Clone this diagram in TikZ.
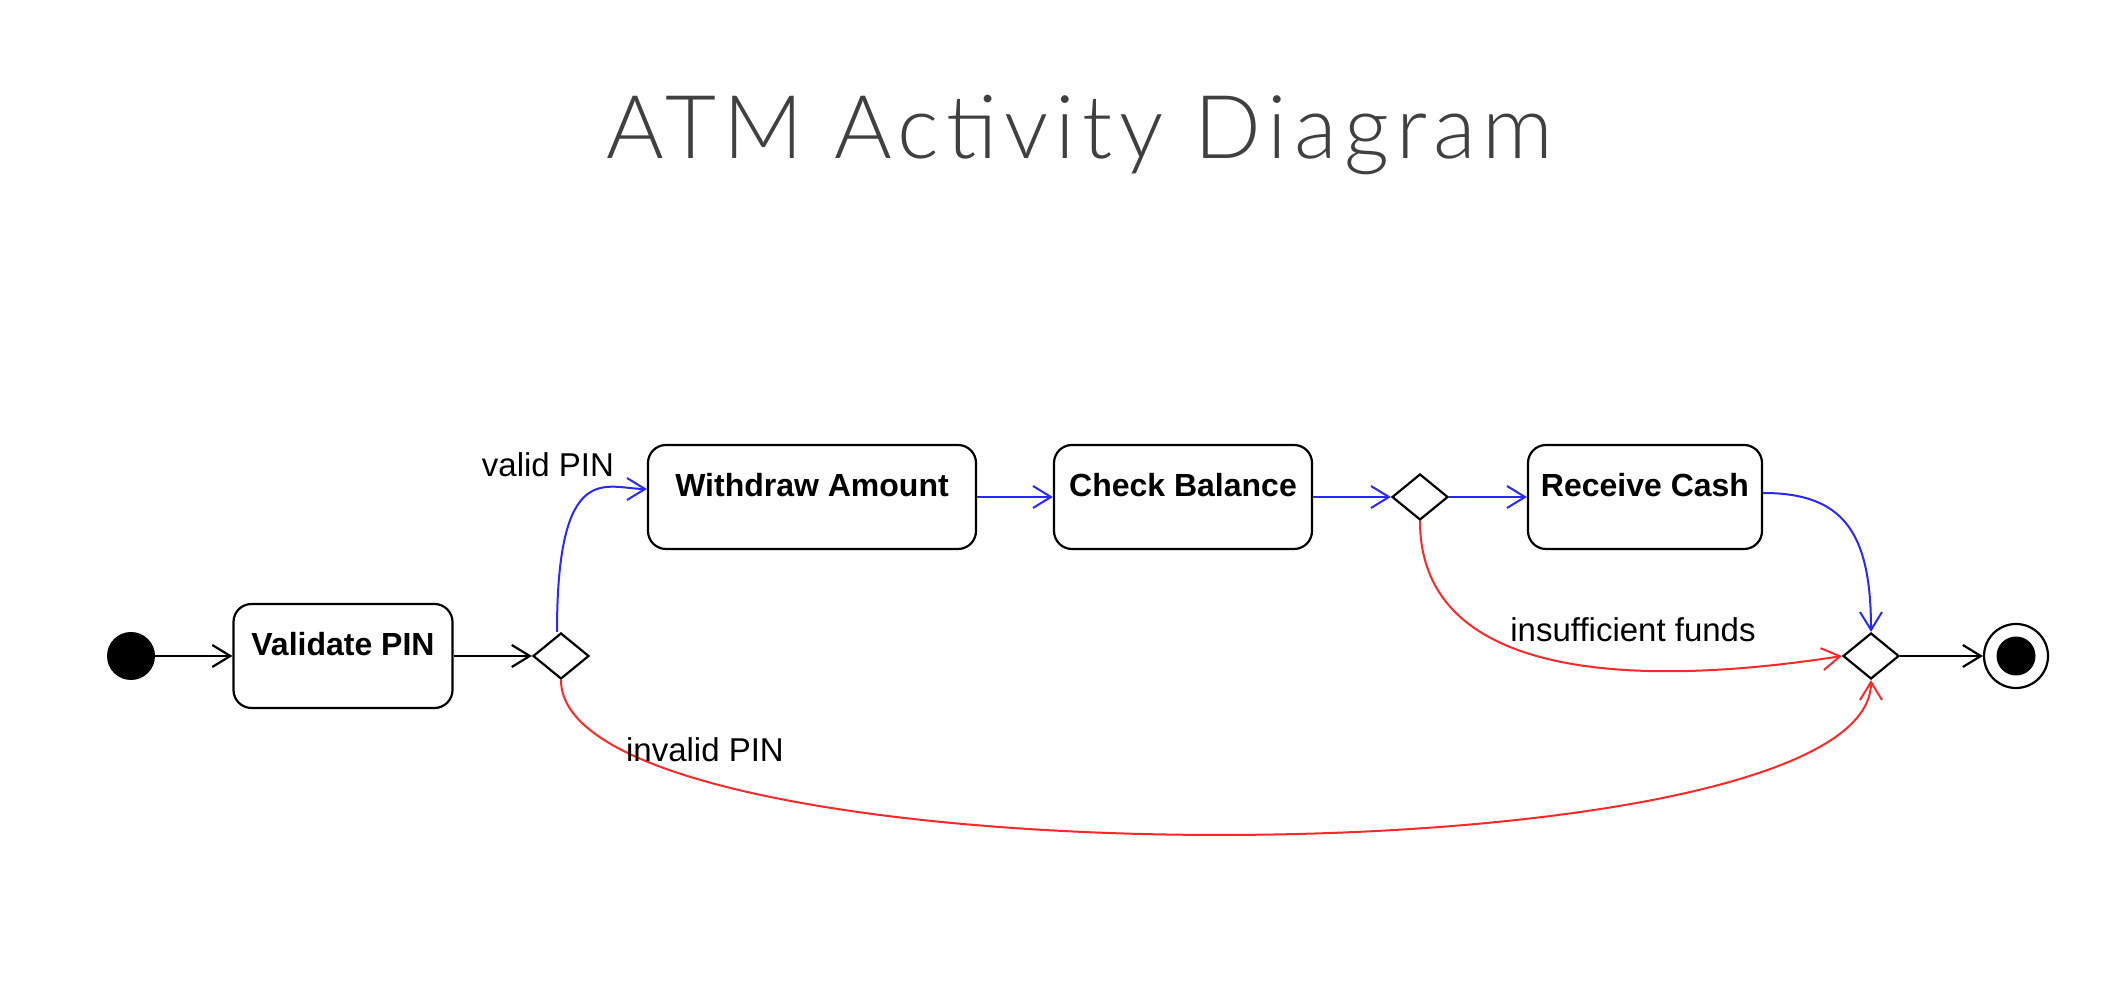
\documentclass[tikz,border=0pt]{standalone}
\usepackage{fontspec}
\setmainfont{Liberation Sans}
\newfontfamily\titlefont{Lato}[UprightFont=* Light, LetterSpace=8]
\usepackage{xcolor}
\usepackage{tikz}
\usetikzlibrary{shapes.geometric}
\usetikzlibrary{arrows.meta}
\usetikzlibrary{positioning}
\definecolor{flowblue}{RGB}{40,40,255}
\definecolor{flowred}{RGB}{255,40,40}
\definecolor{titlegray}{RGB}{64,64,64}
\tikzset{>={Straight Barb[length=9pt,width=11pt]}}
\tikzset{
  activity/.style={draw, line width=1.1pt, rounded corners=9pt, minimum height=52pt,
    text height=11.5pt, text depth=12pt, font=\fontsize{16}{19}\selectfont\bfseries},
  decision/.style={draw, diamond, line width=1.1pt, minimum width=28pt, minimum height=23pt, inner sep=0pt},
  flow/.style={->, line width=1.1pt},
  guard/.style={font=\fontsize{16.5}{19}\selectfont, inner sep=0pt}
}

\begin{document}
\begin{tikzpicture}[x=0.5pt,y=0.5pt]
    \useasboundingbox (0,0) rectangle (2104,1006);
    \node[text=titlegray, font=\titlefont\fontsize{44}{50}\selectfont] (title) at (1080,871) {ATM Activity Diagram};

    % nodes of the activity
    \node[circle, fill, minimum size=24pt, inner sep=0pt] (start) at (131,350) {};
    \node[activity, minimum width=109.5pt] (vpin) at (343,350) {Validate PIN};
    \node[decision] (dec1) at (561,350) {};
    \node[activity, minimum width=164pt] (amount) at (812,509) {Withdraw Amount};
    \node[activity, minimum width=129pt] (balance) at (1183,509) {Check Balance};
    \node[decision] (dec2) at (1420,509) {};
    \node[activity, minimum width=117pt] (cash) at (1645,509) {Receive Cash};
    \node[decision] (merge) at (1871,350) {};
    \node[circle, draw, line width=1.1pt, minimum size=32pt, inner sep=0pt] (stop) at (2016,350) {};
    \node[circle, fill, minimum size=19.5pt, inner sep=0pt] (stopdot) at (stop) {};

    % flows
    \draw[flow] (start) -- (vpin);
    \draw[flow] (vpin) -- (dec1);
    \draw[flow, flowblue, line width=1pt] ([xshift=-2pt]dec1.north) .. controls +(0,175) and +(-40,0) .. ([yshift=4pt]amount.west);
    \draw[flow, flowblue, line width=1pt] (amount) -- (balance);
    \draw[flow, flowblue, line width=1pt] (balance) -- (dec2);
    \draw[flow, flowblue, line width=1pt] (dec2) -- (cash);
    \draw[flow, flowblue, line width=1pt] ([yshift=2pt]cash.east) .. controls +(80,0) and +(0,100) .. (merge.north);
    \draw[flow, flowred, line width=1pt] (dec2.south) .. controls +(0,-164) and +(-193,-30) .. (merge.west);
    \draw[flow, flowred, line width=1pt] (dec1.south) .. controls +(0,-206) and +(0,-206) .. (merge.south);
    \draw[flow] (merge) -- (stop);

    % guards
    \node[guard] (validlbl) at (548,541) {valid PIN};
    \node[guard] (fundslbl) at (1633,376) {insufficient funds};
    \node[guard] (invalidlbl) at (705,256) {invalid PIN};
\end{tikzpicture}
\end{document}
